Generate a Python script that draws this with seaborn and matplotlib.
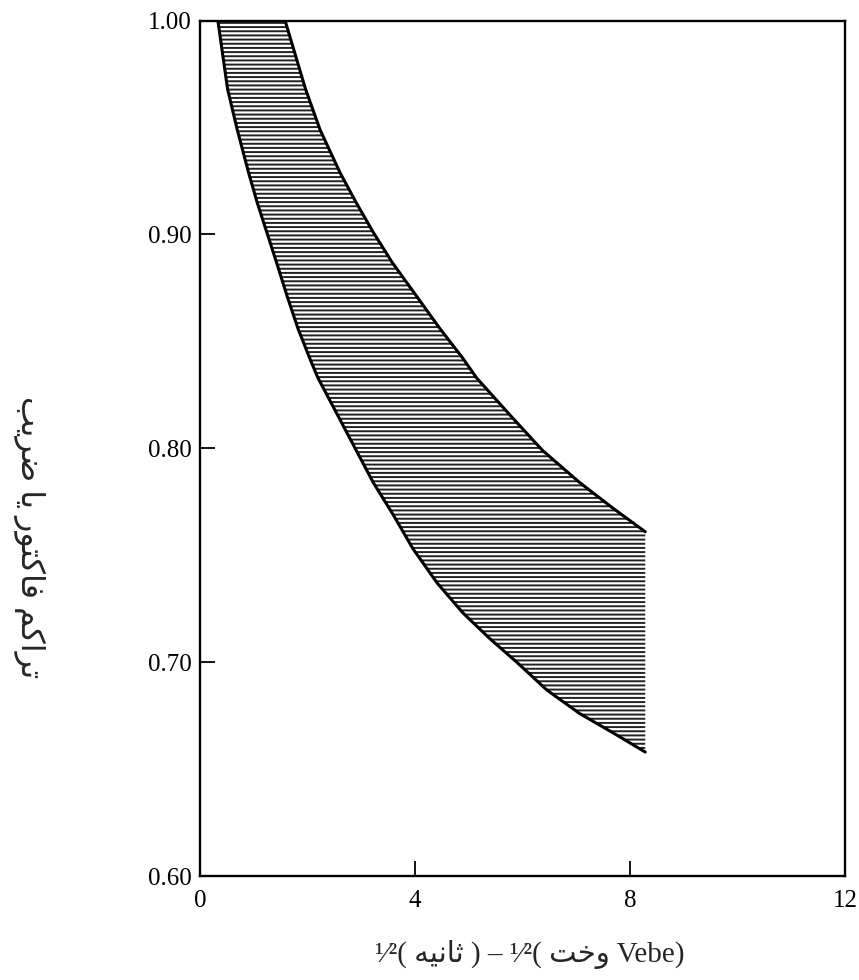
import numpy as np
import matplotlib
matplotlib.use('Agg')
import matplotlib.pyplot as plt
import seaborn as sns
from matplotlib import font_manager, ft2font

# Band boundaries (Vebe time^0.5 vs compacting factor)
lower_x = [0.33, 0.51, 0.69, 0.90, 1.06, 1.24, 1.42, 1.62, 1.82, 2.04, 2.19,
           3.22, 3.59, 3.96, 4.41, 4.89, 5.39, 5.89, 6.45, 7.06, 7.68, 8.28]
lower_y = [1.000, 0.968, 0.949, 0.929, 0.915, 0.901, 0.887, 0.871, 0.856, 0.842, 0.833,
           0.784, 0.769, 0.753, 0.737, 0.723, 0.711, 0.700, 0.687, 0.676, 0.667, 0.658]
upper_x = [1.58, 1.96, 2.23, 2.60, 2.90, 3.22, 3.57, 4.03, 4.46, 4.89, 5.14,
           5.82, 6.37, 7.06, 7.68, 8.28]
upper_y = [1.000, 0.968, 0.949, 0.929, 0.915, 0.901, 0.887, 0.871, 0.856, 0.842, 0.833,
           0.814, 0.799, 0.784, 0.772, 0.761]

x_ticks = [0, 4, 8, 12]
y_ticks = [0.60, 0.70, 0.80, 0.90, 1.00]
y_tick_labels = ['0.60', '0.70', '0.80', '0.90', '1.00']

ylabel_fa = 'تراکم فاکتور یا ضریب'
xlabel_sec = 'ثانیه'
xlabel_time = 'وخت'

sns.set_theme(style="white")
FAM = ['Liberation Serif', 'DejaVu Sans']
plt.rcParams['font.family'] = FAM
plt.rcParams['hatch.linewidth'] = 1.4

# --- minimal Persian shaping (matplotlib has no bidi / joining) ---
FORMS = {
    'ا': ('\uFE8D', '\uFE8E', None, None),
    'ب': ('\uFE8F', '\uFE90', '\uFE91', '\uFE92'),
    'ت': ('\uFE95', '\uFE96', '\uFE97', '\uFE98'),
    'ث': ('\uFE99', '\uFE9A', '\uFE9B', '\uFE9C'),
    'خ': ('\uFEA5', '\uFEA6', '\uFEA7', '\uFEA8'),
    'ر': ('\uFEAD', '\uFEAE', None, None),
    'ض': ('\uFEBD', '\uFEBE', '\uFEBF', '\uFEC0'),
    'ف': ('\uFED1', '\uFED2', '\uFED3', '\uFED4'),
    'م': ('\uFEE1', '\uFEE2', '\uFEE3', '\uFEE4'),
    'ن': ('\uFEE5', '\uFEE6', '\uFEE7', '\uFEE8'),
    'ه': ('\uFEE9', '\uFEEA', '\uFEEB', '\uFEEC'),
    'و': ('\uFEED', '\uFEEE', None, None),
    'ک': ('\uFB8E', '\uFB8F', '\uFB90', '\uFB91'),
    'ی': ('\uFBFC', '\uFBFD', '\uFBFE', '\uFBFF'),
}
try:
    cmap = ft2font.FT2Font(font_manager.findfont('DejaVu Sans')).get_charmap()
except Exception:
    cmap = {}
if cmap and 0xFB8E not in cmap:
    FORMS['ک'] = ('\uFED9', '\uFEDA', '\uFEDB', '\uFEDC')
if cmap and 0xFBFC not in cmap:
    FORMS['ی'] = ('\uFEEF', '\uFEF0', '\uFEF3', '\uFEF4')


def shape(text):
    out = []
    for i, c in enumerate(text):
        if c not in FORMS:
            out.append(c)
            continue
        iso, fin, ini, med = FORMS[c]
        prev = text[i - 1] if i > 0 else None
        nxt = text[i + 1] if i + 1 < len(text) else None
        jp = prev in FORMS and FORMS[prev][2] is not None
        jn = nxt in FORMS and ini is not None
        if jp and jn:
            out.append(med)
        elif jp:
            out.append(fin)
        elif jn:
            out.append(ini)
        else:
            out.append(iso)
    return ''.join(reversed(out))


fig = plt.figure(figsize=(8.59, 9.80), dpi=100)
ax = fig.add_axes([0.233, 0.106, 0.751, 0.873])

# hatched band
ax.fill(lower_x + upper_x[::-1], lower_y + upper_y[::-1],
        facecolor='white', edgecolor='#222222', hatch='----', linewidth=0)
for xs, ys in [(lower_x, lower_y), (upper_x, upper_y)]:
    sns.lineplot(x=xs, y=ys, sort=False, estimator=None, color='black',
                 linewidth=2.2, solid_joinstyle='round', ax=ax)

ax.set_xlim(0, 12)
ax.set_ylim(0.60, 1.00)
ax.set_xticks(x_ticks)
ax.set_xticklabels([str(t) for t in x_ticks])
ax.set_yticks(y_ticks)
ax.set_yticklabels(y_tick_labels)
ax.tick_params(direction='in', length=11, width=1.3, colors='black',
               labelsize=18, bottom=True, left=True, top=False, right=False)
ax.tick_params(axis='y', pad=6)
ax.tick_params(axis='x', pad=10)
for s in ax.spines.values():
    s.set_color('black')
    s.set_linewidth(1.7)
ax.set_xlabel('')
ax.set_ylabel('')

xlab = '¹⁄²( ' + shape(xlabel_sec) + ' ) – ¹⁄²( ' + shape(xlabel_time) + ' Vebe)'
fig.text(0.617, 0.026, xlab, ha='center', va='center', fontsize=21, family=FAM)
fig.text(0.034, 1 - 537 / 980, shape(ylabel_fa), rotation=270,
         ha='center', va='center', fontsize=23, family=FAM)

fig.savefig('out.png', dpi=100, facecolor='white')
